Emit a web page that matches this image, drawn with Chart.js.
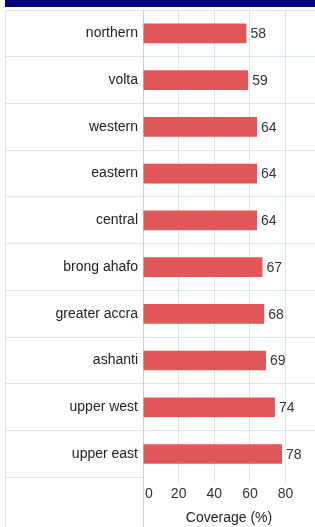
<!DOCTYPE html>
<html>
<head>
<meta charset="utf-8">
<script src="https://cdn.jsdelivr.net/npm/chart.js@4"></script>
<style>
  html, body { margin: 0; padding: 0; background: #fff; overflow: hidden; }
  #wrap { position: relative; width: 315px; height: 527px; }
  #titleBar {
    position: absolute; left: 5px; top: 0; width: 310px; height: 7px;
    background: #000080; overflow: hidden;
  }
  #titleBar span {
    position: absolute; left: 0; right: 0; top: -17px; text-align: center;
    color: #fff; font: bold 15px "Liberation Sans", Arial, sans-serif; white-space: nowrap;
  }
  .vline { position: absolute; pointer-events: none; }
  #leftLine { left: 5px; top: 10px; width: 1px; height: 517px; background: #e2e2e2; }
  #axisLine { left: 143px; top: 470px; width: 1px; height: 57px; background: #d0d0d0; }
  canvas { position: absolute; left: 0; top: 0; }
</style>
</head>
<body>
<div id="wrap">
  <div id="titleBar"><span>Coverage by region, Ghana (%)</span></div>
  <canvas id="chart" width="315" height="527"></canvas>
  <div class="vline" id="leftLine"></div>
  <div class="vline" id="axisLine"></div>
</div>
<script>
// ---------------------------
// Data
// ---------------------------
const regions = ["northern", "volta", "western", "eastern", "central",
                 "brong ahafo", "greater accra", "ashanti", "upper west", "upper east"];
const coverage = [58, 59, 64, 64, 64, 67, 68, 69, 74, 78];
const xTicks = [0, 20, 40, 60, 80];

const FONT = '"Liberation Sans", Arial, sans-serif';
const BAR_RED = "#e15759";
const GRID_BLUE = "#d6e7f6";
const SEP_GRAY = "#e2e2e2";

Chart.defaults.font.family = FONT;
Chart.defaults.font.size = 14;

// value text at the end of each bar
const valueLabels = {
  id: "valueLabels",
  afterDatasetsDraw(chart){
    const ctx = chart.ctx;
    const meta = chart.getDatasetMeta(0);
    ctx.save();
    ctx.font = "14px " + FONT;
    ctx.fillStyle = "#333";
    ctx.textAlign = "left";
    ctx.textBaseline = "middle";
    meta.data.forEach((bar, i)=>{
      ctx.fillText(String(coverage[i]), bar.x + 4, bar.y + 1);
    });
    ctx.restore();
  }
};

new Chart(document.getElementById("chart"), {
  type: "bar",
  data: {
    labels: regions,
    datasets: [{
      data: coverage,
      backgroundColor: BAR_RED,
      borderWidth: 0,
      barPercentage: 0.42,
      categoryPercentage: 1.0
    }]
  },
  options: {
    indexAxis: "y",
    responsive: false,
    animation: false,
    layout: { padding: { top: 10, bottom: 0, left: 0, right: 0 } },
    plugins: {
      legend: { display: false },
      tooltip: { enabled: false }
    },
    scales: {
      x: {
        min: 0,
        max: 96.5,
        afterBuildTicks: (scale)=>{
          scale.ticks = xTicks.map(v => ({ value: v }));
        },
        grid: {
          color: GRID_BLUE,
          tickColor: GRID_BLUE,
          tickLength: 5
        },
        border: { display: false },
        ticks: {
          color: "#333", padding: 3, font: { size: 14 },
          callback: (v)=> v === 0 ? "   0" : String(v)
        },
        title: {
          display: true,
          text: "Coverage (%)",
          color: "#222",
          font: { size: 14 },
          padding: { top: 5, bottom: 0 }
        }
      },
      y: {
        afterFit: (scale)=>{ scale.width = 143; },
        grid: {
          offset: true,
          tickLength: 138,
          color: (c)=>{
            if(c.type !== "tick") return "rgba(0,0,0,0)";
            return c.index === 0 ? SEP_GRAY : GRID_BLUE;
          },
          tickColor: SEP_GRAY
        },
        border: { display: true, color: "#d0d0d0" },
        ticks: { color: "#222", padding: -133, font: { size: 14 } }
      }
    }
  },
  plugins: [valueLabels]
});
</script>
</body>
</html>
